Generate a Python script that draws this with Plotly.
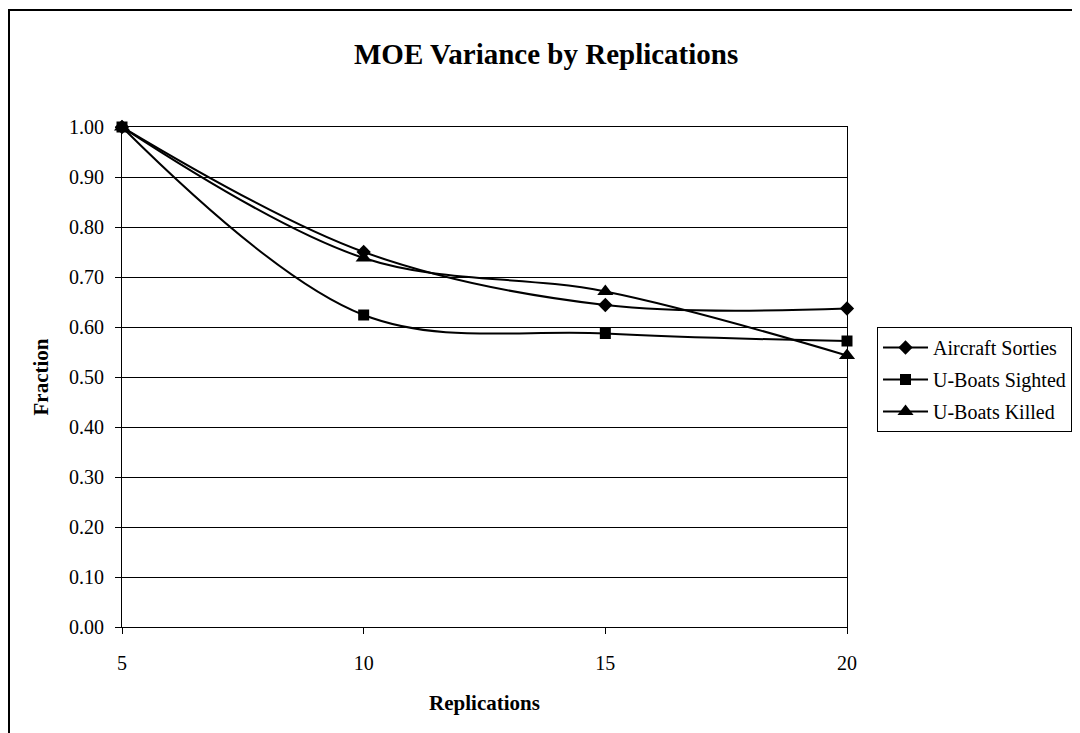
import plotly.graph_objects as go

# ---- data ----
replications = [5, 10, 15, 20]
aircraft_sorties = [1.00, 0.750, 0.644, 0.637]
uboats_sighted = [1.00, 0.624, 0.587, 0.572]
uboats_killed = [1.00, 0.738, 0.671, 0.543]
series_names = ["Aircraft Sorties", "U-Boats Sighted", "U-Boats Killed"]
y_ticks = [0.0, 0.1, 0.2, 0.3, 0.4, 0.5, 0.6, 0.7, 0.8, 0.9, 1.0]
x_ticks = [5, 10, 15, 20]

FONT = "Liberation Serif, Times New Roman, serif"

W, H = 1080, 733
L, R, T, B = 114, 241, 119, 114
PW, PH = W - L - R, H - T - B

fig = go.Figure()
series = [
    (series_names[0], aircraft_sorties, "diamond", 11),
    (series_names[1], uboats_sighted, "square", 11),
    (series_names[2], uboats_killed, "triangle-up", 14),
]
for i, (name, vals, sym, sz) in enumerate(series):
    fig.add_trace(go.Scatter(
        x=replications, y=vals, name=name, mode="lines+markers",
        line=dict(color="black", width=2, shape="spline", smoothing=1),
        marker=dict(symbol=sym, size=sz, color="black"),
        cliponaxis=False, legendgroup=f"g{i}",
    ))

fig.update_layout(
    width=W, height=H,
    paper_bgcolor="white", plot_bgcolor="white",
    margin=dict(l=L, r=R, t=T, b=B),
    font=dict(family=FONT, size=20, color="black"),
    title=dict(
        text="MOE Variance by Replications",
        font=dict(family=FONT, size=29, color="black", weight="bold"),
        x=0.585, xref="paper", xanchor="center",
        y=1 - 46 / H, yref="container", yanchor="middle",
    ),
    showlegend=True,
    legend=dict(
        x=1.0414, y=0.6, xanchor="left", yanchor="top",
        xref="paper", yref="paper",
        bordercolor="black", borderwidth=1, bgcolor="white",
        font=dict(family=FONT, size=20, color="black"),
        traceorder="grouped", tracegroupgap=3, itemwidth=45,
    ),
    shapes=[dict(
        type="rect", xref="paper", yref="paper",
        x0=(1 - L) / PW, x1=1.45,
        y0=-0.3, y1=(H - B - 2) / PH,
        line=dict(color="black", width=2), layer="below",
    )],
)

fig.update_xaxes(
    range=[5, 20], tickvals=x_ticks, ticktext=[str(v) for v in x_ticks],
    showgrid=False, zeroline=False,
    showline=True, linecolor="black", linewidth=1, mirror=True,
    ticks="outside", ticklen=6, tickcolor="black", ticklabelstandoff=12,
    tickfont=dict(family=FONT, size=20, color="black"),
    title=dict(text="Replications", font=dict(family=FONT, size=21, color="black", weight="bold"), standoff=22),
)
fig.update_yaxes(
    range=[0, 1], tickvals=y_ticks, tickformat=".2f",
    showgrid=True, gridcolor="black", gridwidth=1, zeroline=False,
    showline=True, linecolor="black", linewidth=1, mirror=True,
    ticks="outside", ticklen=6, tickcolor="black", ticklabelstandoff=7,
    tickfont=dict(family=FONT, size=20, color="black"),
    title=dict(text="Fraction", font=dict(family=FONT, size=21, color="black", weight="bold"), standoff=14),
)

fig.write_html("out.html")
